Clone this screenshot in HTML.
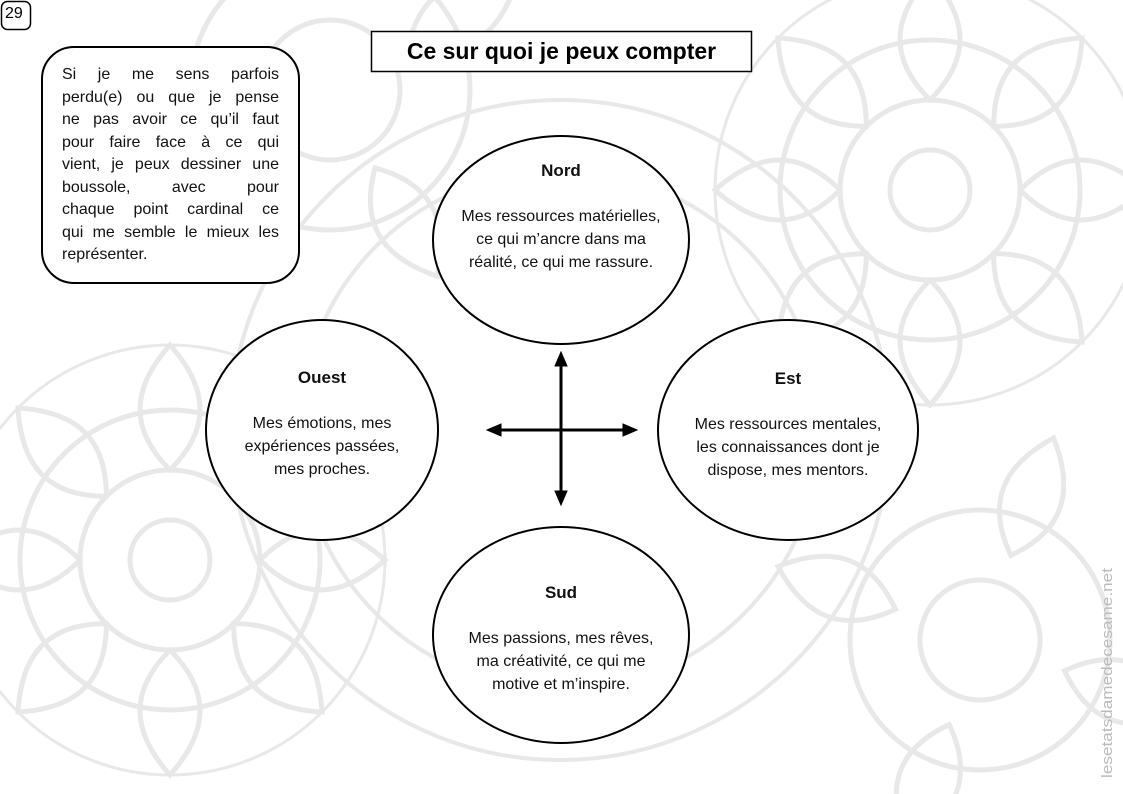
<!DOCTYPE html>
<html><head><meta charset="utf-8"><style>
html,body{margin:0;padding:0;background:#fff}
body{width:1123px;height:794px;position:relative;overflow:hidden;font-family:"Liberation Sans",sans-serif}
svg{position:absolute;left:0;top:0}
.t{position:absolute;text-align:center;color:#111;font-size:16px;line-height:23px}
.h{font-weight:bold;font-size:17px;margin-bottom:23px}
.p div{text-align:justify;text-align-last:justify;white-space:nowrap;height:22.5px}
.p div.l{text-align-last:left}
</style></head><body>
<svg width="1123" height="794" viewBox="0 0 1123 794">
<g fill="none" stroke="#e8e8e8" stroke-width="5">
<g transform="translate(930,190)">
<circle r="40"/><circle r="90"/><circle r="150"/><circle r="215" stroke-width="3"/>
<g id="pet"><path d="M0,-90 C40,-130 40,-170 0,-215 C-40,-170 -40,-130 0,-90Z"/></g>
<use href="#pet" transform="rotate(45)"/><use href="#pet" transform="rotate(90)"/><use href="#pet" transform="rotate(135)"/><use href="#pet" transform="rotate(180)"/><use href="#pet" transform="rotate(225)"/><use href="#pet" transform="rotate(270)"/><use href="#pet" transform="rotate(315)"/>
</g>
<g transform="translate(170,560)">
<circle r="40"/><circle r="90"/><circle r="150"/><circle r="215" stroke-width="3"/>
<use href="#pet"/><use href="#pet" transform="rotate(45)"/><use href="#pet" transform="rotate(90)"/><use href="#pet" transform="rotate(135)"/><use href="#pet" transform="rotate(180)"/><use href="#pet" transform="rotate(225)"/><use href="#pet" transform="rotate(270)"/><use href="#pet" transform="rotate(315)"/>
</g>
<g transform="translate(560,430)">
<circle r="260" stroke-width="4"/><circle r="330" stroke-width="4"/>
</g>
<g transform="translate(980,640)">
<circle r="60"/><circle r="130"/>
<use href="#pet" transform="rotate(20)"/><use href="#pet" transform="rotate(110)"/><use href="#pet" transform="rotate(200)"/><use href="#pet" transform="rotate(290)"/>
</g>
<g transform="translate(330,90)">
<circle r="70"/><circle r="140"/>
<use href="#pet" transform="rotate(60)"/><use href="#pet" transform="rotate(150)"/><use href="#pet" transform="rotate(240)"/>
</g>
</g>
<rect x="1.5" y="1.5" width="29" height="28" rx="6" fill="#fff" stroke="#000" stroke-width="1.5"/>
<rect x="42" y="47" width="257" height="236" rx="32" fill="#fff" stroke="#000" stroke-width="2"/>
<rect x="371.5" y="31.5" width="380" height="40" fill="#fff" stroke="#000" stroke-width="1.5"/>
<g fill="#fff" stroke="#000" stroke-width="2">
<ellipse cx="561" cy="240" rx="128" ry="104"/>
<ellipse cx="322" cy="430" rx="116" ry="110"/>
<ellipse cx="788" cy="430" rx="130" ry="110"/>
<ellipse cx="561" cy="635" rx="128" ry="108"/>
</g>
<g stroke="#000" stroke-width="3" fill="#000">
<line x1="561" y1="362" x2="561" y2="496"/>
<line x1="497" y1="430" x2="627" y2="430"/>
<polygon points="561,352 555,366 567,366" stroke-width="1"/>
<polygon points="561,505 555,491 567,491" stroke-width="1"/>
<polygon points="487,430 501,424 501,436" stroke-width="1"/>
<polygon points="637,430 623,424 623,436" stroke-width="1"/>
</g>
<text x="1112" y="778" transform="rotate(-90 1112 778)" font-family="Liberation Sans" font-size="15" fill="#bbb" textLength="210" lengthAdjust="spacingAndGlyphs">lesetatsdamedecesame.net</text>
</svg>
<div style="position:absolute;left:5px;top:5px;font-size:16px">29</div>
<div style="position:absolute;left:371px;top:31px;width:381px;height:41px;line-height:41px;text-align:center;font-weight:bold;font-size:23px">Ce sur quoi je peux compter</div>
<div class="p" style="position:absolute;left:62px;top:64px;width:217px;font-size:16px;line-height:22.5px;color:#111">
<div>Si je me sens parfois</div>
<div>perdu(e) ou que je pense</div>
<div>ne pas avoir ce qu’il faut</div>
<div>pour faire face à ce qui</div>
<div>vient, je peux dessiner une</div>
<div>boussole, avec pour</div>
<div>chaque point cardinal ce</div>
<div>qui me semble le mieux les</div>
<div class="l">représenter.</div>
</div>
<div class="t" style="left:433px;top:159px;width:256px"><div class="h">Nord</div>Mes ressources matérielles,<br>ce qui m’ancre dans ma<br>réalité, ce qui me rassure.</div>
<div class="t" style="left:206px;top:366px;width:232px"><div class="h">Ouest</div>Mes émotions, mes<br>expériences passées,<br>mes proches.</div>
<div class="t" style="left:658px;top:367px;width:260px"><div class="h">Est</div>Mes ressources mentales,<br>les connaissances dont je<br>dispose, mes mentors.</div>
<div class="t" style="left:433px;top:581px;width:256px"><div class="h">Sud</div>Mes passions, mes rêves,<br>ma créativité, ce qui me<br>motive et m’inspire.</div>
</body></html>
